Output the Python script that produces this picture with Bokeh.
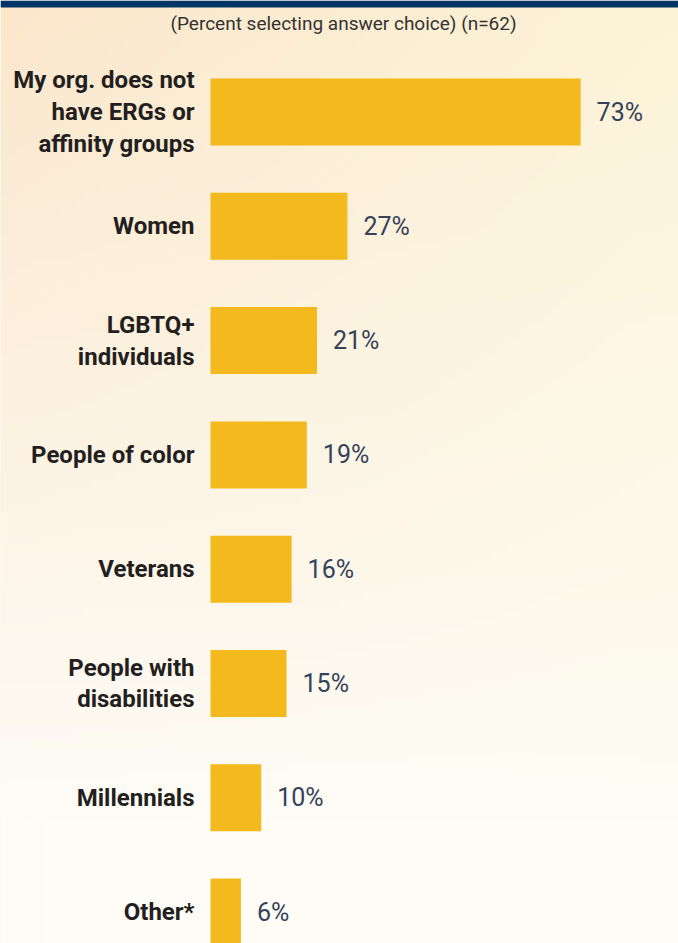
import numpy as np
from bokeh.plotting import figure
from bokeh.models import Range1d, ColumnDataSource, BoxAnnotation
from bokeh.embed import file_html
from bokeh.resources import INLINE
from bokeh.core.properties import value

# ---- data ----
categories = [
    "My org. does not\nhave ERGs or\naffinity groups",
    "Women",
    "LGBTQ+\nindividuals",
    "People of color",
    "Veterans",
    "People with\ndisabilities",
    "Millennials",
    "Other*",
]
percents = [73, 27, 21, 19, 16, 15, 10, 6]
value_labels = [f"{v}%" for v in percents]
subtitle = "(Percent selecting answer choice) (n=62)"

# ---- layout helpers (pixel -> data) ----
W, H = 678, 943
X0_PX, PX_PER_PCT = 210.0, 5.07
Y0_PX, PITCH = 111.5, 114.3

def px_x(px):
    return (px - X0_PX) / PX_PER_PCT

def px_y(px):
    return (px - Y0_PX) / PITCH

p = figure(width=W, height=H, output_backend="svg", toolbar_location=None,
           x_range=Range1d(px_x(0), px_x(W)), y_range=Range1d(px_y(H), px_y(0)),
           min_border=0)
p.axis.visible = False
p.xgrid.visible = False
p.ygrid.visible = False
p.outline_line_color = None
p.background_fill_color = "#fdf5e6"
p.border_fill_color = "#fdf5e6"

# ---- background gradient ----
gh, gw = 120, 90
tl = np.array([251, 231, 204]); tr = np.array([252, 243, 215])
bl = np.array([254, 252, 247]); br = np.array([254, 252, 244])
yy = np.linspace(0, 1, gh)[:, None, None]
xx = np.linspace(0, 1, gw)[None, :, None]
yy2 = np.clip(yy * 1.15, 0, 1)
col = (tl * (1 - xx) + tr * xx) * (1 - yy2) + (bl * (1 - xx) + br * xx) * yy2
img = np.zeros((gh, gw), dtype=np.uint32)
view = img.view(dtype=np.uint8).reshape((gh, gw, 4))
view[:, :, 0:3] = col.astype(np.uint8)
view[:, :, 3] = 255
p.image_rgba(image=[img], x=px_x(0), y=px_y(0), dw=px_x(W) - px_x(0), dh=px_y(H) - px_y(0))

# ---- navy band at top ----
p.add_layout(BoxAnnotation(top=px_y(0), bottom=px_y(7), left=px_x(0), right=px_x(W),
                           fill_color="#003466", fill_alpha=1.0, line_color=None))

idx = list(range(len(categories)))
src = ColumnDataSource(dict(y=idx, pct=percents, cat=categories, lab=value_labels,
                            lx=[v + 16 / PX_PER_PCT for v in percents]))

p.hbar(y="y", left=0, right="pct", height=67 / PITCH, source=src,
       fill_color="#F4B91D", line_color=None)

p.text(x=px_x(194), y="y", text="cat", source=src, text_align="right",
       text_baseline="middle", text_font=value("Roboto"), text_font_style="bold",
       text_font_size="24px", text_color="#231f20", text_line_height=1.14)

p.text(x="lx", y="y", text="lab", source=src, text_align="left",
       text_baseline="middle", text_font=value("Roboto"), text_font_style="normal",
       text_font_size="25px", text_color="#36425a")

p.text(x=[px_x(343)], y=[px_y(23)], text=[subtitle], text_align="center",
       text_baseline="middle", text_font=value("Roboto"), text_font_size="19px",
       text_color="#333333")

open("out.html", "w").write(file_html(p, INLINE))
